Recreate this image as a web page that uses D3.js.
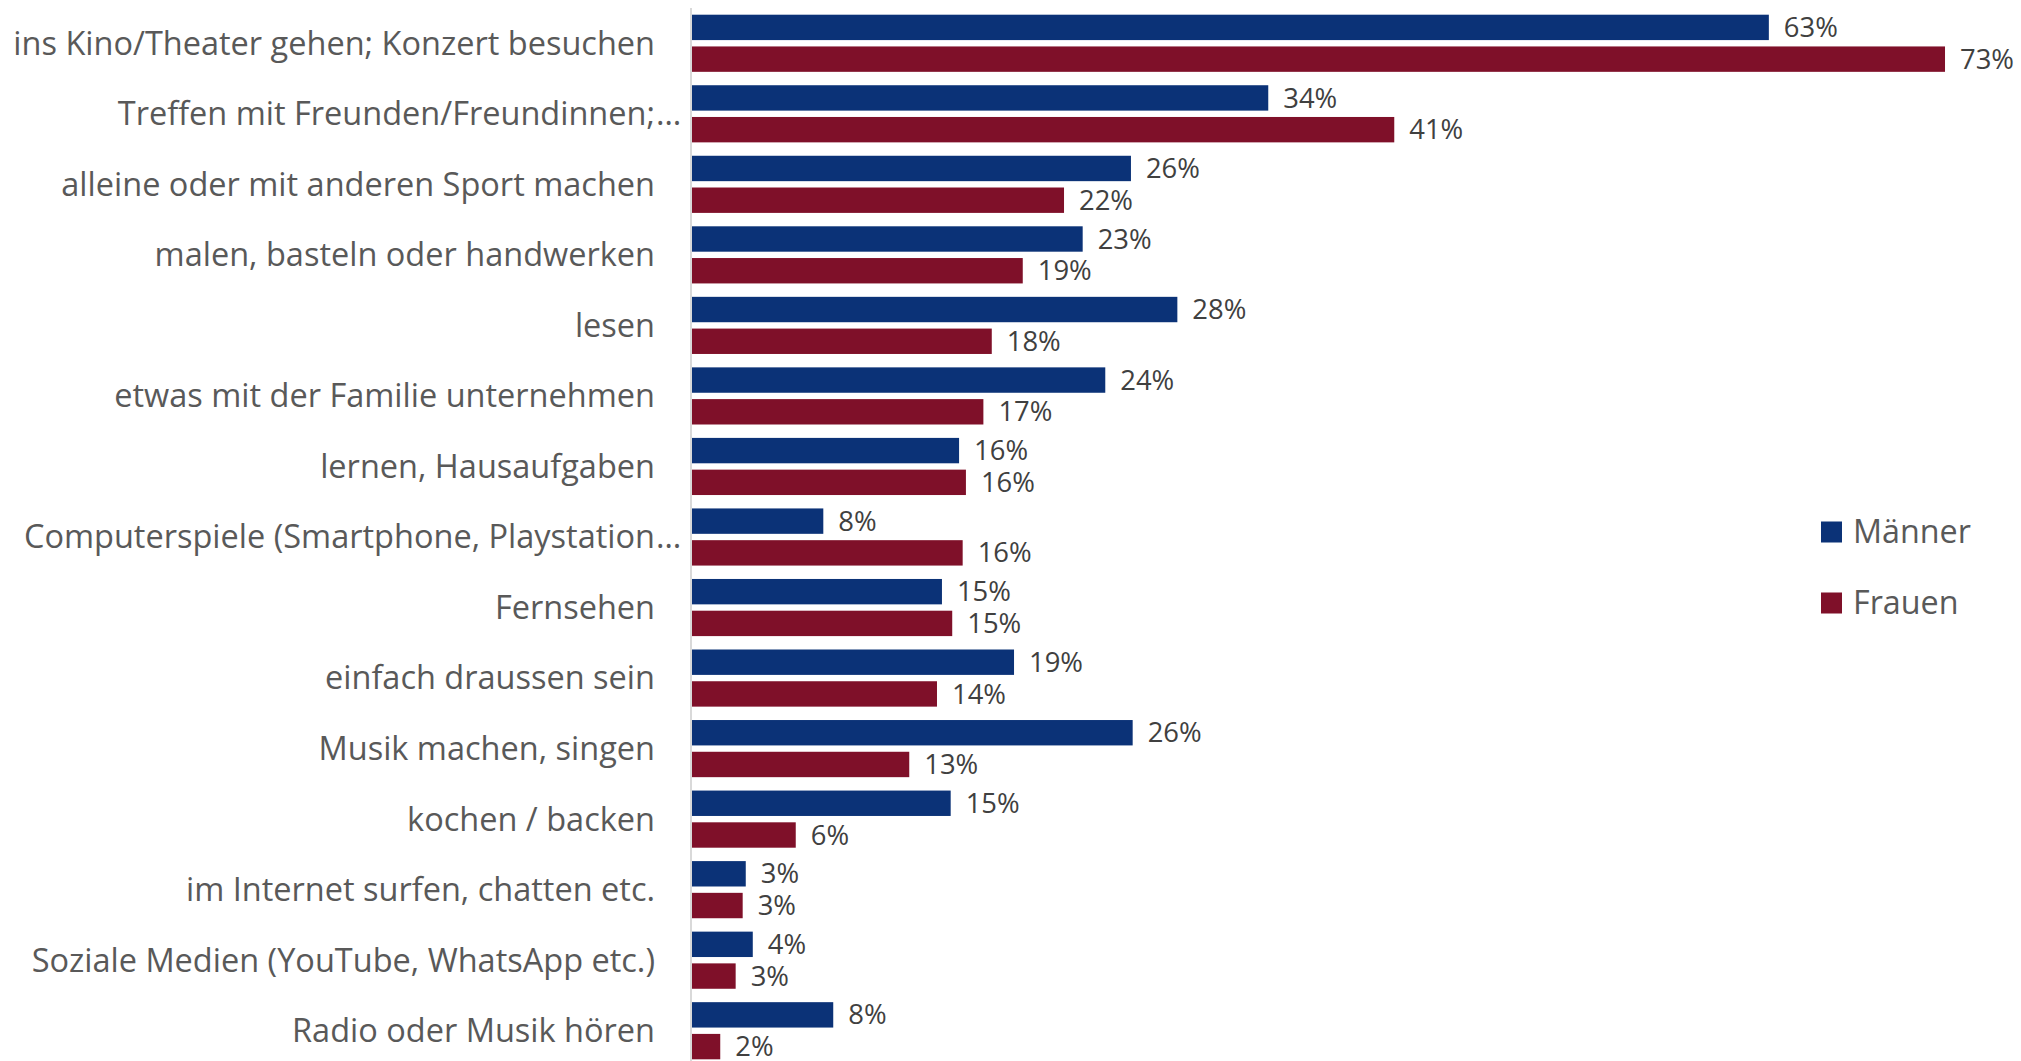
<!DOCTYPE html>
<html>
<head>
<meta charset="utf-8">
<script src="https://cdn.jsdelivr.net/npm/d3@7"></script>
<style>
  body { margin: 0; background: #fff; }
  text { font-family: "Open Sans", sans-serif; }
</style>
</head>
<body>
<div id="chart"></div>
<script>
(function(){

    var categories = [
        "ins Kino/Theater gehen; Konzert besuchen",
        "Treffen mit Freunden/Freundinnen;",
        "alleine oder mit anderen Sport machen",
        "malen, basteln oder handwerken",
        "lesen",
        "etwas mit der Familie unternehmen",
        "lernen, Hausaufgaben",
        "Computerspiele (Smartphone, Playstation",
        "Fernsehen",
        "einfach draussen sein",
        "Musik machen, singen",
        "kochen / backen",
        "im Internet surfen, chatten etc.",
        "Soziale Medien (YouTube, WhatsApp etc.)",
        "Radio oder Musik hören"
    ];
    // labels that Excel cut off with an ellipsis
    var truncated = [
        "Treffen mit Freunden/Freundinnen;",
        "Computerspiele (Smartphone, Playstation"
    ];
    var series = ["Männer", "Frauen"];
    // labels show the rounded percent
    var maenner = [62.9, 33.66, 25.64, 22.82, 28.35, 24.14, 15.6, 7.67, 14.6, 18.81, 25.74, 15.11, 3.14, 3.55, 8.25];
    var frauen  = [73.19, 41.02, 21.73, 19.32, 17.51, 17.02, 16.0, 15.81, 15.2, 14.31, 12.69, 6.06, 2.96, 2.55, 1.65];
    var colors = ["#0b3277", "#7f1029"];

    var width = 2021, height = 1061;
    var svg = d3.select("#chart").append("svg").attr("width", width).attr("height", height);

    var rows = categories.map(function(c, i){
        return {cat: c, values: [maenner[i], frauen[i]]};
    });

    var x = d3.scaleLinear().domain([0, 100]).range([692, 692 + 1712]);
    var y0 = d3.scaleBand().domain(categories).range([8, 1066])
        .paddingInner(0.19).paddingOuter(0.095);
    var y1 = d3.scaleBand().domain(series).range([0, y0.bandwidth()]).paddingInner(0.2);

    function fitSize(str, target, guess){
        var t = svg.append("text").style("font-size", guess + "px").text(str);
        var w = t.node().getComputedTextLength();
        t.remove();
        return guess * target / w;
    }
    var catSize = fitSize(categories[0], 642, 32);
    var valSize = fitSize("63%", 54, 27);
    var legSize = fitSize("Männer", 118, 32);

    // category axis line
    svg.append("line")
        .attr("x1", 691).attr("x2", 691)
        .attr("y1", 8).attr("y2", height)
        .attr("stroke", "#d9d9d9").attr("stroke-width", 2);

    var groups = svg.selectAll("g.row").data(rows).enter().append("g")
        .attr("class", "row")
        .attr("transform", function(d){ return "translate(0," + y0(d.cat) + ")"; });

    groups.selectAll("rect").data(function(d){
            return d.values.map(function(v, j){ return {s: series[j], v: v, j: j}; });
        }).enter().append("rect")
        .attr("x", x(0))
        .attr("y", function(d){ return y1(d.s); })
        .attr("width", function(d){ return x(d.v) - x(0); })
        .attr("height", y1.bandwidth())
        .attr("fill", function(d){ return colors[d.j]; });

    groups.selectAll("text.val").data(function(d){
            return d.values.map(function(v, j){ return {s: series[j], v: v}; });
        }).enter().append("text")
        .attr("class", "val")
        .attr("x", function(d){ return x(d.v) + 15; })
        .attr("y", function(d){ return y1(d.s) + y1.bandwidth() / 2; })
        .attr("dy", "0.35em")
        .style("font-size", valSize + "px")
        .attr("fill", "#404040")
        .text(function(d){ return Math.round(d.v) + "%"; });

    groups.append("text")
        .attr("x", 655)
        .attr("y", y0.bandwidth() / 2)
        .attr("dy", "0.35em")
        .attr("text-anchor", "end")
        .style("font-size", catSize + "px")
        .attr("fill", "#595959")
        .text(function(d){ return d.cat; });

    groups.filter(function(d){ return truncated.indexOf(d.cat) >= 0; })
        .append("text")
        .attr("x", 656)
        .attr("y", y0.bandwidth() / 2)
        .attr("dy", "0.35em")
        .style("font-size", catSize + "px")
        .attr("fill", "#595959")
        .text("…");

    // legend
    var legendY = [532, 603];
    var legend = svg.selectAll("g.legend").data(series).enter().append("g")
        .attr("class", "legend")
        .attr("transform", function(d, i){ return "translate(1821," + legendY[i] + ")"; });
    legend.append("rect")
        .attr("x", 0).attr("y", -10.5)
        .attr("width", 21).attr("height", 21)
        .attr("fill", function(d, i){ return colors[i]; });
    legend.append("text")
        .attr("x", 32).attr("y", 0).attr("dy", "0.35em")
        .style("font-size", legSize + "px")
        .attr("fill", "#595959")
        .text(function(d){ return d; });

})();
</script>
</body>
</html>
